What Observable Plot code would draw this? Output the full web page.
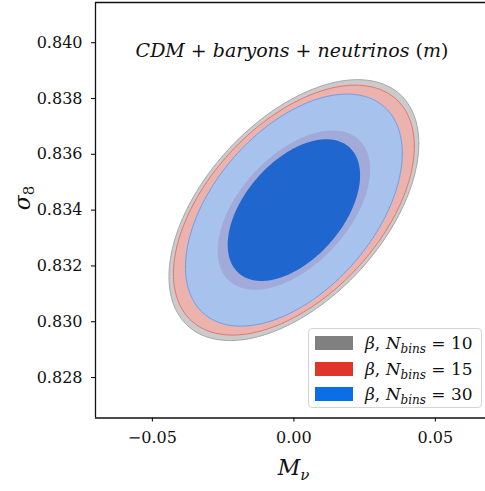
<!DOCTYPE html>
<html>
<head>
<meta charset="utf-8">
<script src="https://cdn.jsdelivr.net/npm/d3@7"></script>
<script src="https://cdn.jsdelivr.net/npm/@observablehq/plot@0.6"></script>
<style>
  body { margin: 0; background: #fff; }
  #wrap { position: relative; width: 485px; height: 491px; font-family: "DejaVu Serif", serif; }
  #wrap svg { position: absolute; left: 0; top: 0; }
  #legend { position: absolute; left: 308px; top: 328px; width: 174px; height: 80px; box-sizing: border-box;
            border: 1px solid #d4d4d4; border-radius: 4px; background: rgba(255,255,255,0.85); }
  .row { position: absolute; left: 6px; height: 26px; display: flex; align-items: center; font-size: 17px; color: #111; white-space: nowrap; }
  .sw { width: 38px; height: 14px; margin-right: 12px; flex: none; }
  .row i { font-style: italic; }
  .row sub { font-size: 12px; font-style: italic; vertical-align: -4px; line-height: 0; }
</style>
</head>
<body>
<div id="wrap"><div id="legend"></div></div>
<script>
// Fisher forecast: marginal errors and correlation for (M_nu, sigma_8)
const nBins = [10, 15, 30];
const sigmaMnu = [0.01777, 0.01713, 0.01542];
const sigmaS8 = [0.001882, 0.001803, 0.001674];
const rho = [0.51, 0.51, 0.49];
const fiducialMnu = 0.0;
const fiducialS8 = 0.834;

// Delta chi^2 for the 68% and 95% contours of two parameters
const deltaChi2 = [2.30, 6.17];

const legendColors = ["#808080", "#e0352b", "#0a6fe6"];
const outerFill = ["#cbcbcb", "#ecb2ad", "#a7c2ec"];
const outerStroke = ["#a6a6a6", "#df7771", "#6e9ee8"];
const innerFill = ["#a1aad8", "#a1aad8", "#1f66cf"];

const xTicks = [-0.05, 0.0, 0.05];
const yTicks = [0.828, 0.830, 0.832, 0.834, 0.836, 0.838, 0.840];
const xDomain = [-0.0701, 0.0677];
const yDomain = [0.82655, 0.84144];

// Points on the confidence ellipse of chain i for a given Delta chi^2
function ellipse(i, dchi2) {
  const k = Math.sqrt(dchi2), n = 240, pts = [];
  const c = Math.sqrt(1 - rho[i] * rho[i]);
  for (let j = 0; j <= n; ++j) {
    const t = 2 * Math.PI * j / n;
    pts.push({
      Mnu: fiducialMnu + k * sigmaMnu[i] * Math.cos(t),
      s8: fiducialS8 + k * sigmaS8[i] * (rho[i] * Math.cos(t) + c * Math.sin(t))
    });
  }
  return pts;
}

const marks = [];
for (let i = 0; i < nBins.length; ++i) {
  marks.push(Plot.line(ellipse(i, deltaChi2[1]), {
    x: "Mnu", y: "s8", fill: outerFill[i], stroke: outerStroke[i], strokeWidth: 1
  }));
}
for (let i = 0; i < nBins.length; ++i) {
  marks.push(Plot.line(ellipse(i, deltaChi2[0]), {
    x: "Mnu", y: "s8", fill: innerFill[i], stroke: "none"
  }));
}

const plot = Plot.plot({
  width: 485,
  height: 491,
  marginLeft: 95,
  marginRight: 0,
  marginTop: 2,
  marginBottom: 73.5,
  style: { fontFamily: "'DejaVu Serif', serif", fontSize: "16px", color: "#111", background: "white" },
  x: { domain: xDomain },
  y: { domain: yDomain },
  marks: [
    ...marks,
    Plot.ruleX([xDomain[0]], { stroke: "#111", strokeWidth: 1.3 }),
    Plot.ruleY(yDomain, { stroke: "#111", strokeWidth: 1.3 }),
    Plot.axisX(xTicks, { tickSize: 4, tickPadding: 10, tickFormat: d3.format(".2f"), fontSize: 16, label: null, stroke: "#111", strokeWidth: 1.1 }),
    Plot.axisY(yTicks, { tickSize: 4, tickPadding: 9, tickFormat: d3.format(".3f"), fontSize: 16, label: null, stroke: "#111", strokeWidth: 1.1 }),
    Plot.text(["CDM + baryons + neutrinos (m)"], { frameAnchor: "top", dx: 1.5, dy: 41, fontSize: 19 }),
    Plot.text(["σ8"], { frameAnchor: "left", dx: -73, rotate: -90, fontSize: 22 }),
    Plot.text(["Mν"], { frameAnchor: "bottom", dx: 3, dy: 57, fontSize: 22 })
  ]
});

// Math-style text: italic symbols, upright operators, subscripts
function rich(svg, key, parts) {
  d3.select(svg).selectAll("text").filter(function () { return this.textContent === key; }).each(function () {
    const t = d3.select(this);
    t.text(null);
    for (const p of parts) {
      const s = t.append("tspan").text(p.t);
      if (p.i) s.attr("font-style", "italic");
      if (p.sub) s.attr("font-size", p.sub).attr("dy", p.dy);
    }
  });
}
rich(plot, "CDM + baryons + neutrinos (m)", [
  { t: "CDM", i: true }, { t: " + " }, { t: "baryons", i: true }, { t: " + " },
  { t: "neutrinos", i: true }, { t: " (" }, { t: "m", i: true }, { t: ")" }
]);
rich(plot, "σ8", [{ t: "σ", i: true }, { t: "8", sub: 15, dy: "0.3em" }]);
rich(plot, "Mν", [{ t: "M", i: true }, { t: "ν", i: true, sub: 15, dy: "0.3em" }]);

document.getElementById("wrap").prepend(plot);

// Legend
const legend = document.getElementById("legend");
const rowTops = [0, 25.5, 51];
nBins.forEach((n, i) => {
  const row = document.createElement("div");
  row.className = "row";
  row.style.top = (rowTops[i] + 1) + "px";
  row.innerHTML = `<div class="sw" style="background:${legendColors[i]}"></div><span><i>β</i>,&nbsp;<i>N</i><sub>bins</sub>&nbsp;=&nbsp;${n}</span>`;
  legend.appendChild(row);
});
</script>
</body>
</html>
